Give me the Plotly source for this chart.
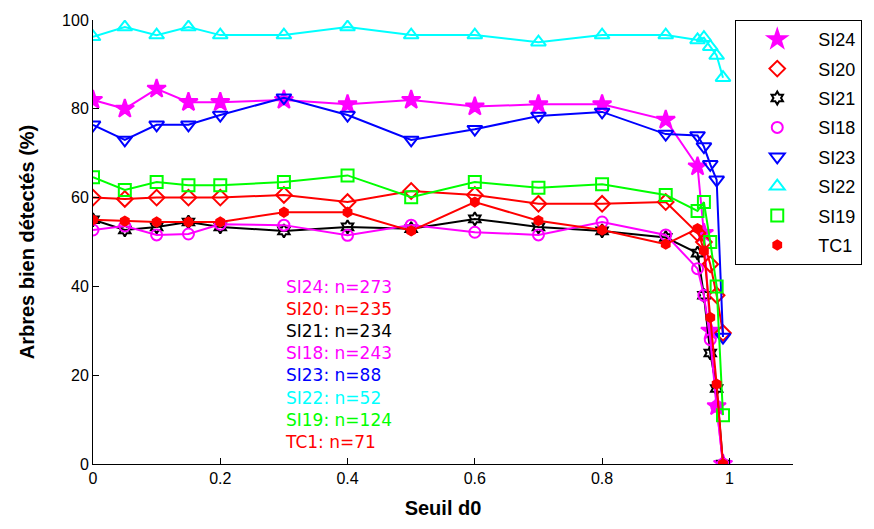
import plotly.graph_objects as go

X = [0, 0.05, 0.1, 0.15, 0.2, 0.3, 0.4, 0.5, 0.6, 0.7, 0.8, 0.9, 0.95, 0.96, 0.97, 0.98, 0.99]

SI24 = [82, 80, 84.5, 81.5, 81.5, 82, 81, 82, 80.5, 81, 81, 77.5, 67, 52, 30, 13, 0]
SI20 = [60, 59.7, 60, 60, 60, 60.6, 59, 61.5, 60.6, 58.6, 58.6, 59, 52, 50, 45, 38, 29.5]
SI21 = [55, 52.7, 53.4, 54.5, 53.4, 52.5, 53.4, 53, 55.2, 53.4, 52.5, 51, 47.5, 38, 25, 17, 0]
SI18 = [52.7, 53.6, 51.6, 51.8, 54, 53.8, 51.5, 53.8, 52.2, 51.6, 54.5, 51.6, 44, 38, 28, 13, 0]
SI23 = [76.4, 73, 76.4, 76.4, 78.6, 82.5, 78.6, 73, 75.4, 78.4, 79.3, 74.3, 74, 71.5, 67.5, 64, 28.6]
SI22 = [96.2, 98.4, 96.6, 98.4, 96.6, 96.6, 98.4, 96.6, 96.6, 95, 96.6, 96.6, 95.5, 96, 94, 92, 87]
SI19 = [64.6, 61.7, 63.5, 62.8, 62.8, 63.5, 65, 60.1, 63.5, 62.2, 63, 60.6, 57, 59, 50, 40, 11]
TC1 = [55, 54.7, 54.5, 54.5, 54.5, 56.7, 56.7, 52.5, 59, 54.8, 52.7, 49.5, 53, 48, 33, 18, 0]

names = ["SI24", "SI20", "SI21", "SI18", "SI23", "SI22", "SI19", "TC1"]
series = [SI24, SI20, SI21, SI18, SI23, SI22, SI19, TC1]
counts = [273, 235, 234, 243, 88, 52, 124, 71]

colors = ["#FF00FF", "#FF0000", "#000000", "#FF00FF", "#0000FF", "#00FFFF", "#00FF00", "#FF0000"]
symbols = ["star", "diamond-open", "hexagram-open", "circle-open", "triangle-down-open",
           "triangle-up-open", "square-open", "hexagon"]
sizes = [14, 12, 10, 11, 13, 13, 12, 9]

FONT = "Liberation Sans, Arial, sans-serif"

fig = go.Figure()
for nm, ys, c, s, sz in zip(names, series, colors, symbols, sizes):
    fig.add_trace(go.Scatter(
        x=X, y=ys, mode="lines+markers", name=nm, showlegend=False,
        line=dict(color=c, width=2),
        marker=dict(symbol=s, size=sz, color=c, line=dict(color=c, width=2)),
    ))
for nm, c, s, sz in zip(names, colors, symbols, sizes):
    fig.add_trace(go.Scatter(
        x=[None], y=[None], mode="markers", name=nm, showlegend=True, legendgroup=nm,
        marker=dict(symbol=s, size=sz, color=c, line=dict(color=c, width=2)),
    ))

lines = [f"<span style='color:{c}'>{nm}: n={n}</span>" for nm, n, c in zip(names, counts, colors)]
fig.add_annotation(
    x=0.298, y=22.3, xref="x", yref="y", text="<br>".join(lines),
    showarrow=False, xanchor="left", yanchor="middle", align="left",
    font=dict(family="DejaVu Sans, sans-serif", size=17, color="black"),
)

fig.update_layout(
    width=874, height=529,
    margin=dict(l=93, r=78, t=18, b=65),
    paper_bgcolor="white", plot_bgcolor="white",
    font=dict(family=FONT, size=16, color="black"),
    legend=dict(
        x=0.9175, y=1.0, xanchor="left", yanchor="top",
        bordercolor="black", borderwidth=1, bgcolor="white",
        font=dict(family=FONT, size=18, color="black"),
        itemwidth=72, tracegroupgap=3,
    ),
)
fig.update_xaxes(
    range=[0, 1.1], tickvals=[0, 0.2, 0.4, 0.6, 0.8, 1],
    ticktext=["0", "0.2", "0.4", "0.6", "0.8", "1"],
    showline=True, linecolor="black", linewidth=1, mirror=False,
    ticks="inside", ticklen=6, tickcolor="black", showgrid=False, zeroline=False,
    title=dict(text="<b>Seuil d0</b>", font=dict(family=FONT, size=20), standoff=14),
)
fig.update_yaxes(
    range=[0, 100], tickvals=[0, 20, 40, 60, 80, 100],
    showline=True, linecolor="black", linewidth=1, mirror=False,
    ticks="inside", ticklen=6, tickcolor="black", showgrid=False, zeroline=False,
    title=dict(text="<b>Arbres bien détectés (%)</b>", font=dict(family=FONT, size=20), standoff=22),
)

fig.write_html("out.html", config={"displayModeBar": False},
               post_script="document.body.style.margin='0';")
